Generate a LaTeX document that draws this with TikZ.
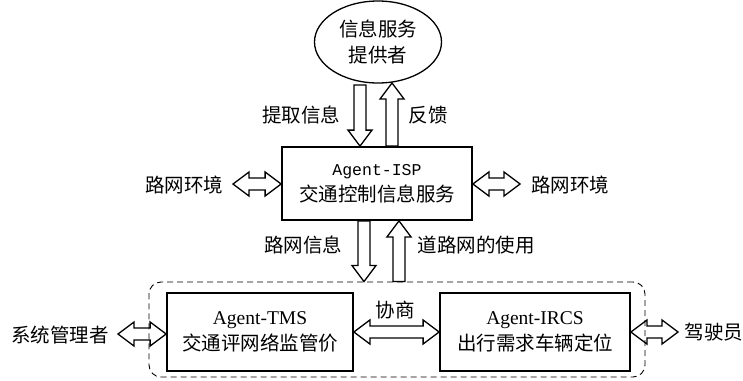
\documentclass[tikz,border=0pt]{standalone}
\usepackage{fontspec}
\setmainfont{Liberation Serif}
\newfontfamily\cjk{Noto Sans CJK SC}
\newfontfamily\monof{Liberation Mono}
\usetikzlibrary{calc,shapes.geometric}
\def\arSW{6pt}
\def\arHW{12pt}
\def\arHL{16pt}
\newcommand\sarrow[2]{%
  \coordinate (H) at ($(#2)!\arHL!(#1)$);
  \draw[barrow] ($(#1)!\arSW!90:(#2)$) -- ($(H)!\arSW!90:(#2)$) -- ($(H)!\arHW!90:(#2)$) -- (#2) -- ($(H)!\arHW!-90:(#2)$) -- ($(H)!\arSW!-90:(#2)$) -- ($(#1)!\arSW!-90:(#2)$) -- cycle;}
\newcommand\darrow[2]{%
  \coordinate (Ha) at ($(#1)!\arHL!(#2)$);
  \coordinate (Hb) at ($(#2)!\arHL!(#1)$);
  \draw[barrow] (#1) -- ($(Ha)!\arHW!90:(#2)$) -- ($(Ha)!\arSW!90:(#2)$) -- ($(Hb)!\arSW!-90:(#1)$) -- ($(Hb)!\arHW!-90:(#1)$) -- (#2) -- ($(Hb)!\arHW!90:(#1)$) -- ($(Hb)!\arSW!90:(#1)$) -- ($(Ha)!\arSW!-90:(#2)$) -- ($(Ha)!\arHW!-90:(#2)$) -- cycle;}
\tikzset{
  barrow/.style={draw, line width=1.3pt, line join=miter},
  ell/.style={ellipse, draw, line width=1.3pt, minimum width=127pt, minimum height=82pt, inner sep=0pt, align=center, font=\cjk\fontsize{19.5}{26}\selectfont},
  agentbox/.style={rectangle, draw, line width=1.8pt, inner sep=0pt, align=center, font=\cjk\fontsize{19.5}{26}\selectfont},
  grpbox/.style={rectangle, draw, line width=0.9pt, dash pattern=on 6pt off 4pt, rounded corners=12pt, inner sep=0pt},
  lbl/.style={inner sep=0pt, font=\cjk\fontsize{19.5}{24}\selectfont}
}
\begin{document}
\begin{tikzpicture}[x=1pt,y=-1pt]
\useasboundingbox (0,0) rectangle (743,380);
% main nodes
\node[ell] (isp0) at (378,42) {信息服务\\提供者};
\node[agentbox, minimum width=190pt, minimum height=73pt] (isp) at (377,183.5) {{\monof\fontsize{16.5}{26}\selectfont Agent-ISP}\\交通控制信息服务};
\node[grpbox, minimum width=496pt, minimum height=95pt] (grp) at (397,329.5) {};
\node[agentbox, minimum width=186pt, minimum height=78pt] (tms) at (260,332) {{\rmfamily Agent-TMS}\\交通评网络监管价};
\node[agentbox, minimum width=190pt, minimum height=78pt] (ircs) at (535,332) {{\rmfamily Agent-IRCS}\\出行需求车辆定位};
% labels
\node[lbl] (l1) at (301,115) {提取信息};
\node[lbl] (l2) at (428,115) {反馈};
\node[lbl] (l3) at (184,185) {路网环境};
\node[lbl] (l4) at (570,185) {路网环境};
\node[lbl] (l5) at (303,245) {路网信息};
\node[lbl] (l6) at (476,245) {道路网的使用};
\node[lbl] (l7) at (395,310) {协商};
\node[lbl] (l8) at (60,335) {系统管理者};
\node[lbl] (l9) at (714,332) {驾驶员};
% arrow end coordinates
\coordinate (d1) at (360,85);
\coordinate (u1) at (392,83);
\coordinate (d2) at (364,0);
\coordinate (u2) at (399,0);
\coordinate (e1) at (233,184);
\coordinate (e2) at (520,184);
\coordinate (s1) at (118,334);
\coordinate (r1) at (678,332);
% arrows
\sarrow{d1}{d1 |- isp.north}
\sarrow{u1 |- isp.north}{u1}
\sarrow{d2 |- isp.south}{d2 |- grp.north}
\sarrow{u2 |- grp.north}{u2 |- isp.south}
\darrow{e1}{isp.west |- e1}
\darrow{isp.east |- e2}{e2}
\darrow{tms.east}{ircs.west}
\darrow{s1}{tms.west |- s1}
\darrow{ircs.east |- r1}{r1}
\end{tikzpicture}
\end{document}
